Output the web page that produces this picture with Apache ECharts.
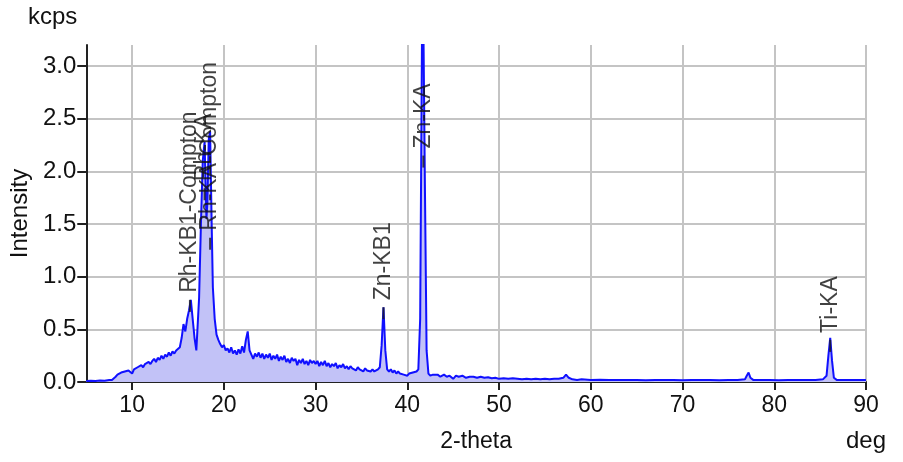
<!DOCTYPE html>
<html>
<head>
<meta charset="utf-8">
<script src="https://cdn.jsdelivr.net/npm/echarts@6/dist/echarts.min.js"></script>
<style>
  html, body { margin: 0; padding: 0; background: #fff; }
  #chart { width: 903px; height: 462px; }
</style>
</head>
<body>
<div id="chart"></div>
<script>
// XRF scan: intensity (kcps) against 2-theta (deg)
const angle = [
  5.0, 5.5, 6.0, 6.5, 7.0, 7.5, 7.8, 8.0, 8.2, 8.4, 8.6, 8.8, 9.0, 9.2, 9.4, 9.6, 9.8,
  10.0, 10.2, 10.4, 10.6, 10.8, 11.0, 11.2, 11.4, 11.6, 11.8, 12.0, 12.2, 12.4, 12.6, 12.8,
  13.0, 13.2, 13.4, 13.6, 13.8, 14.0, 14.2, 14.4, 14.6, 14.8, 15.0, 15.2, 15.4, 15.6, 15.8,
  16.0, 16.2, 16.4, 16.6, 16.8, 17.0, 17.1, 17.3, 17.5, 17.7, 17.9, 18.0, 18.1, 18.2, 18.35,
  18.5, 18.65, 18.8, 19.0, 19.2, 19.4, 19.6, 19.8, 20.0, 20.2, 20.4, 20.6, 20.8, 21.0, 21.2,
  21.4, 21.6, 21.8, 22.0, 22.2, 22.4, 22.6, 22.8, 23.0, 23.2, 23.4, 23.6, 23.8, 24.0, 24.2,
  24.4, 24.6, 24.8, 25.0, 25.2, 25.4, 25.6, 25.8, 26.0, 26.2, 26.4, 26.6, 26.8, 27.0, 27.2,
  27.4, 27.6, 27.8, 28.0, 28.2, 28.4, 28.6, 28.8, 29.0, 29.2, 29.4, 29.6, 29.8, 30.0, 30.2,
  30.4, 30.6, 30.8, 31.0, 31.2, 31.4, 31.6, 31.8, 32.0, 32.2, 32.4, 32.6, 32.8, 33.0, 33.2,
  33.4, 33.6, 33.8, 34.0, 34.2, 34.4, 34.6, 34.8, 35.0, 35.2, 35.4, 35.6, 35.8, 36.0, 36.2,
  36.4, 36.6, 36.8, 37.0, 37.2, 37.4, 37.6, 37.8, 38.0, 38.2, 38.4, 38.6, 38.8, 39.0, 39.2,
  39.4, 39.6, 39.8, 40.0, 40.2, 40.4, 40.6, 40.8, 41.0, 41.2, 41.4, 41.6, 41.75, 41.9, 42.1,
  42.3, 42.5, 42.8, 43.0, 43.3, 43.6, 44.0, 44.3, 44.6, 45.0, 45.3, 45.6, 46.0, 46.4, 46.8,
  47.2, 47.6, 48.0, 48.4, 48.8, 49.2, 49.6, 50.0, 50.5, 51.0, 51.5, 52.0, 52.5, 53.0, 53.5,
  54.0, 54.5, 55.0, 55.5, 56.0, 56.5, 57.0, 57.3, 57.6, 58.0, 58.5, 59.0, 60.0, 61.0, 62.0,
  63.0, 64.0, 65.0, 66.0, 67.0, 68.0, 69.0, 70.0, 71.0, 72.0, 73.0, 74.0, 75.0, 76.0, 76.8,
  77.0, 77.2, 77.4, 77.7, 78.5, 79.5, 80.5, 81.5, 82.5, 83.5, 84.5, 85.3, 85.7, 85.9, 86.1,
  86.3, 86.5, 86.8, 87.5, 88.5, 89.5, 90.0
];
const kcps = [
  0.010, 0.012, 0.010, 0.015, 0.012, 0.018, 0.020, 0.030, 0.050, 0.070, 0.060, 0.090, 0.080, 0.100, 0.085, 0.110, 0.100,
  0.080, 0.120, 0.110, 0.140, 0.130, 0.160, 0.140, 0.170, 0.160, 0.190, 0.170, 0.200, 0.220, 0.190, 0.230,
  0.210, 0.250, 0.220, 0.260, 0.240, 0.280, 0.250, 0.290, 0.270, 0.300, 0.290, 0.330, 0.420, 0.550, 0.480,
  0.600, 0.680, 0.780, 0.600, 0.420, 0.300, 0.300, 0.800, 1.500, 2.100, 2.280, 1.900, 1.550, 1.700, 2.300,
  2.380, 1.600, 0.900, 0.600, 0.450, 0.400, 0.360, 0.330, 0.350, 0.300, 0.320, 0.280, 0.330, 0.270, 0.300,
  0.260, 0.310, 0.270, 0.340, 0.280, 0.400, 0.480, 0.300, 0.260, 0.220, 0.270, 0.240, 0.280, 0.230, 0.270,
  0.220, 0.260, 0.230, 0.270, 0.210, 0.250, 0.220, 0.260, 0.200, 0.240, 0.210, 0.250, 0.190, 0.220, 0.180,
  0.230, 0.200, 0.220, 0.160, 0.210, 0.180, 0.220, 0.170, 0.200, 0.160, 0.210, 0.180, 0.200, 0.170, 0.200,
  0.150, 0.190, 0.160, 0.200, 0.150, 0.180, 0.140, 0.170, 0.150, 0.180, 0.130, 0.160, 0.140, 0.170, 0.130,
  0.150, 0.120, 0.150, 0.130, 0.140, 0.110, 0.140, 0.120, 0.130, 0.100, 0.130, 0.110, 0.120, 0.100, 0.120,
  0.100, 0.110, 0.120, 0.140, 0.350, 0.710, 0.300, 0.120, 0.100, 0.120, 0.090, 0.110, 0.080, 0.100, 0.080,
  0.090, 0.070, 0.080, 0.060, 0.080, 0.070, 0.090, 0.080, 0.100, 0.120, 0.600, 3.300, 3.400, 2.000, 0.300,
  0.080, 0.060, 0.070, 0.060, 0.070, 0.050, 0.070, 0.050, 0.060, 0.030, 0.060, 0.050, 0.060, 0.040, 0.050,
  0.050, 0.040, 0.050, 0.040, 0.045, 0.035, 0.040, 0.030, 0.035, 0.030, 0.035, 0.030, 0.025, 0.030, 0.025,
  0.030, 0.025, 0.030, 0.025, 0.030, 0.030, 0.040, 0.070, 0.040, 0.025, 0.020, 0.025, 0.020, 0.022, 0.018,
  0.020, 0.018, 0.020, 0.017, 0.020, 0.018, 0.020, 0.017, 0.020, 0.018, 0.020, 0.017, 0.020, 0.020, 0.025,
  0.060, 0.090, 0.040, 0.020, 0.018, 0.020, 0.017, 0.020, 0.018, 0.020, 0.020, 0.025, 0.060, 0.250, 0.420,
  0.200, 0.040, 0.020, 0.018, 0.020, 0.018, 0.020
];

// Line identifications: angle, height of the marker tick, name
const peakAngle = [16.3, 17.9, 18.5, 37.4, 41.75, 86.1];
const peakMark  = [0.78, 1.84, 1.37, 0.71, 2.15, 0.40];
const peakName  = ['Rh-KB1-Compton', 'Rh-KA', 'Rh-KA-Compton', 'Zn-KB1', 'Zn-KA', 'Ti-KA'];

const xTicks = [10, 20, 30, 40, 50, 60, 70, 80, 90];
const yTicks = [0, 0.5, 1.0, 1.5, 2.0, 2.5, 3.0];

const FONT = '"Liberation Sans", Arial, sans-serif';
const INK = '#111111';

const chart = echarts.init(document.getElementById('chart'), null, { renderer: 'canvas' });

chart.setOption({
  animation: false,
  backgroundColor: '#ffffff',
  grid: { left: 86, right: 37, top: 45, bottom: 80 },
  xAxis: {
    type: 'value',
    min: 5,
    max: 90,
    name: '2-theta',
    nameLocation: 'middle',
    nameGap: 48,
    nameTextStyle: { fontFamily: FONT, fontSize: 23, color: INK },
    axisLine: { show: true, onZero: false, lineStyle: { color: '#222', width: 2 } },
    axisTick: { show: true, length: 8, customValues: xTicks, lineStyle: { color: '#222', width: 2 } },
    axisLabel: {
      customValues: xTicks,
      fontFamily: FONT, fontSize: 23, color: INK, margin: 12
    },
    splitLine: { show: true, lineStyle: { color: '#c4c4c4', width: 2 } }
  },
  yAxis: {
    type: 'value',
    min: 0,
    max: 3.2,
    name: 'Intensity',
    nameLocation: 'middle',
    nameGap: 52,
    nameTextStyle: { fontFamily: FONT, fontSize: 24, color: INK },
    axisLine: { show: true, lineStyle: { color: '#222', width: 2 } },
    axisTick: { show: true, length: 9, customValues: yTicks, lineStyle: { color: '#222', width: 2 } },
    axisLabel: {
      customValues: yTicks,
      formatter: v => v.toFixed(1),
      fontFamily: FONT, fontSize: 24, color: INK, margin: 10
    },
    splitLine: { show: true, lineStyle: { color: '#c4c4c4', width: 2 } }
  },
  graphic: [
    { type: 'text', left: 28, top: 5, style: { text: 'kcps', fontFamily: FONT, fontSize: 24, fill: INK } },
    { type: 'text', left: 846, top: 429, style: { text: 'deg', fontFamily: FONT, fontSize: 24, fill: INK } }
  ],
  series: [
    {
      name: 'Intensity',
      type: 'line',
      data: angle.map((a, i) => [a, kcps[i]]),
      showSymbol: false,
      symbol: 'none',
      clip: true,
      lineStyle: { color: '#1010ff', width: 2 },
      areaStyle: { color: '#c2c2f7', opacity: 1 },
      z: 2
    },
    {
      name: 'Lines',
      type: 'scatter',
      data: peakAngle.map((a, i) => ({ value: [a, peakMark[i]], name: peakName[i] })),
      symbol: 'rect',
      symbolSize: [2, 12],
      symbolOffset: [0, 6],
      itemStyle: { color: '#1a1a1a' },
      label: {
        show: true,
        formatter: p => p.name,
        position: 'top',
        distance: 7,
        rotate: 90,
        align: 'left',
        verticalAlign: 'middle',
        fontFamily: FONT,
        fontSize: 23,
        color: INK
      },
      z: 3
    }
  ]
});
</script>
</body>
</html>
